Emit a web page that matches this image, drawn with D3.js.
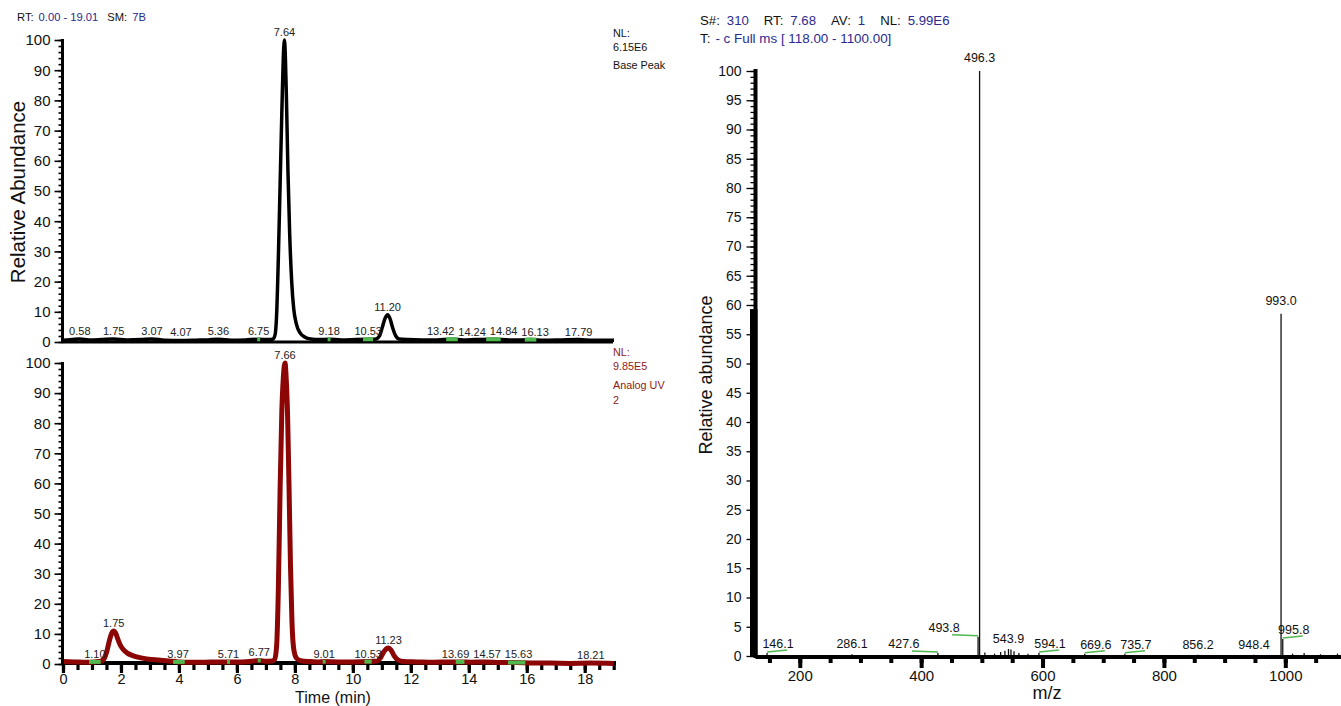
<!DOCTYPE html>
<html>
<head>
<meta charset="utf-8">
<script src="https://cdn.jsdelivr.net/npm/d3@7"></script>
<style>
  body { margin: 0; background: #fff; }
  svg { display: block; font-family: "Liberation Sans", Arial, Helvetica, sans-serif; }
</style>
</head>
<body>
<svg id="chart" width="1341" height="706"></svg>
<script>
// ---------- Chromatogram data (time in min, relative abundance %) ----------
const basePeakTrace = [
  [0.00,0.6],[0.30,0.8],[0.58,1.0],[0.90,0.7],[1.30,0.8],[1.75,1.0],[2.20,0.7],[2.70,0.8],
  [3.07,1.0],[3.50,0.6],[4.07,0.5],[4.60,0.6],[5.00,0.7],[5.36,0.9],[5.80,0.6],[6.30,0.7],
  [6.75,0.9],[7.10,0.8],[7.25,1.0],[7.32,2.5],[7.37,9],[7.43,28],[7.49,52],[7.55,76],
  [7.60,94],[7.64,100],[7.67,95],[7.71,80],[7.76,57],[7.82,36],[7.89,20],[7.96,11],
  [8.05,6],[8.18,3],[8.35,1.6],[8.55,1.0],[8.85,0.8],[9.18,0.9],[9.60,0.7],[10.10,0.8],
  [10.53,0.9],[10.80,1.0],[10.92,2.0],[11.02,5.0],[11.11,7.8],[11.20,9.0],[11.28,7.8],
  [11.37,4.8],[11.47,2.2],[11.60,1.0],[11.90,0.8],[12.40,0.7],[12.90,0.7],[13.42,0.9],
  [13.80,0.7],[14.24,0.8],[14.84,0.9],[15.40,0.7],[15.80,0.7],[16.13,0.8],[16.60,0.6],
  [17.20,0.7],[17.79,0.8],[18.30,0.6],[19.01,0.6]
];
const basePeakLabelRT = [0.58, 1.75, 3.07, 4.07, 5.36, 6.75, 7.64, 9.18, 10.53, 11.20, 13.42, 14.24, 14.84, 16.13, 17.79];
const basePeakMarks = [[6.70,6.80],[9.13,9.23],[10.35,10.70],[13.22,13.62],[14.60,15.10],[15.93,16.33]];

const uvTrace = [
  [0.00,0.8],[0.40,0.7],[0.80,0.6],[1.10,0.7],[1.30,0.9],[1.42,1.8],[1.52,4.5],[1.62,8.5],
  [1.70,10.6],[1.75,11.0],[1.81,10.4],[1.88,8.6],[1.97,6.4],[2.08,4.8],[2.22,3.6],[2.40,2.8],
  [2.65,2.1],[2.95,1.6],[3.30,1.3],[3.65,1.0],[3.97,0.7],[4.40,0.6],[4.90,0.6],[5.30,0.7],
  [5.71,0.7],[6.20,0.7],[6.50,0.9],[6.77,1.2],[7.00,0.9],[7.22,1.0],[7.30,1.5],[7.37,6],
  [7.43,25],[7.49,58],[7.55,84],[7.60,95],[7.66,100],[7.70,95],[7.75,82],[7.80,58],
  [7.85,32],[7.90,14],[7.96,5],[8.05,2],[8.20,1.1],[8.50,0.8],[8.80,0.7],[9.01,0.8],
  [9.50,0.7],[10.00,0.7],[10.53,0.8],[10.85,1.0],[10.95,2.0],[11.05,3.8],[11.15,5.0],
  [11.23,5.3],[11.32,4.6],[11.42,2.8],[11.55,1.4],[11.75,0.8],[12.20,0.7],[12.80,0.6],
  [13.30,0.7],[13.69,0.7],[14.10,0.6],[14.57,0.7],[15.10,0.5],[15.63,0.5],[16.20,0.3],
  [16.80,0.3],[17.50,0.2],[18.21,0.3],[19.01,0.2]
];
const uvLabelRT = [1.10, 1.75, 3.97, 5.71, 6.77, 7.66, 9.01, 10.53, 11.23, 13.69, 14.57, 15.63, 18.21];
const uvMarks = [[0.90,1.30],[3.80,4.20],[5.66,5.76],[6.72,6.82],[8.96,9.06],[10.40,10.65],[13.55,13.85],[15.35,15.95]];

const timeMajorTicks = [0, 2, 4, 6, 8, 10, 12, 14, 16, 18];
const abundanceMajorTicks = [0, 10, 20, 30, 40, 50, 60, 70, 80, 90, 100];

// ---------- Mass spectrum data (m/z, relative abundance %) ----------
const spectrumMz        = [146.1, 286.1, 427.6, 493.8, 496.3, 543.9, 594.1, 669.6, 735.7, 856.2, 948.4, 993.0, 995.8];
const spectrumIntensity = [0.5,   0.3,   0.5,   3.3,   100,   1.2,   0.5,   0.4,   0.4,   0.2,   0.2,   58.5,  2.9];
const noiseMz        = [505, 521, 531, 538, 548, 553, 561, 576, 1012, 1031, 1058, 1086];
const noiseIntensity = [0.6, 0.4, 0.7, 0.9, 1.1, 0.8, 0.5, 0.4, 0.4, 0.5, 0.3, 0.4];
const mzMajorTicks = [200, 400, 600, 800, 1000];
const spectrumAbundanceTicks = d3.range(0, 101, 5);

// ---------- Styling ----------
const BLUE = "#2a2a8e";
const NOTE_RED = "#8e1a1a";
const TRACE_RED = "#8c0606";
const GREEN = "#4fb84f";
const TICK_FONT = '"Liberation Sans", Arial, sans-serif';

const svg = d3.select("#chart");

// linear lookup of a trace value at time t
function valueAt(trace, t) {
  const i = d3.bisector(d => d[0]).left(trace, t);
  if (i <= 0) return trace[0][1];
  if (i >= trace.length) return trace[trace.length - 1][1];
  const a = trace[i - 1], b = trace[i];
  const f = (t - a[0]) / (b[0] - a[0]);
  return a[1] + f * (b[1] - a[1]);
}

// push apart neighbouring labels on the same row so they do not collide
function declutter(sel) {
  const nodes = sel.nodes().map(el => ({
    el, x: +el.getAttribute("x"), y: +el.getAttribute("y"), w: el.getComputedTextLength()
  })).sort((a, b) => a.x - b.x);
  for (let iter = 0; iter < 60; iter++) {
    let moved = false;
    for (let i = 0; i < nodes.length - 1; i++) {
      const a = nodes[i], b = nodes[i + 1];
      if (Math.abs(a.y - b.y) > 10) continue;
      const need = (a.w + b.w) / 2 + 4 - (b.x - a.x);
      if (need > 0.1) { a.x -= need / 2; b.x += need / 2; moved = true; }
    }
    if (!moved) break;
  }
  nodes.forEach(n => n.el.setAttribute("x", n.x));
}

// ---------- Chromatogram panels ----------
const x = d3.scaleLinear().domain([0, 19.01]).range([63, 614]);
const yTop = d3.scaleLinear().domain([0, 100]).range([342, 40]);
const yBot = d3.scaleLinear().domain([0, 100]).range([664, 363]);

function leftAxis(y) {
  svg.append("g").attr("transform", "translate(62.5,0)")
    .call(d3.axisLeft(y).tickValues(d3.range(0, 101, 2)).tickSize(4).tickSizeOuter(0).tickFormat(""))
    .call(s => s.selectAll(".tick line").attr("stroke-width", 1.6))
    .call(s => s.select(".domain").remove());
  svg.append("g").attr("transform", "translate(62.5,0)")
    .call(d3.axisLeft(y).tickValues(abundanceMajorTicks).tickSize(8).tickSizeOuter(0).tickPadding(4))
    .call(s => s.selectAll(".tick line").attr("stroke-width", 1.6))
    .call(s => s.selectAll(".tick text").attr("font-size", 15).attr("fill", "#111").attr("font-family", TICK_FONT))
    .call(s => s.select(".domain").remove());
  svg.append("line").attr("x1", 62.5).attr("x2", 62.5)
    .attr("y1", y(100) - 1).attr("y2", y(0) + 1)
    .attr("stroke", "#000").attr("stroke-width", 3);
}

function chromatogram(trace, y, color, width, labelRT, marks) {
  const line = d3.line().x(d => x(d[0])).y(d => y(d[1])).curve(d3.curveMonotoneX);
  svg.append("path").datum(trace).attr("d", line)
    .attr("fill", "none").attr("stroke", color).attr("stroke-width", width)
    .attr("stroke-linejoin", "round");
  svg.append("g").selectAll("line").data(marks).join("line")
    .attr("x1", d => x(d[0])).attr("x2", d => x(d[1]))
    .attr("y1", d => y(valueAt(trace, (d[0] + d[1]) / 2)))
    .attr("y2", d => y(valueAt(trace, (d[0] + d[1]) / 2)))
    .attr("stroke", GREEN).attr("stroke-width", 4);
  const labels = svg.append("g").selectAll("text").data(labelRT).join("text")
    .attr("x", d => x(d)).attr("y", d => y(valueAt(trace, d)) - 4)
    .attr("text-anchor", "middle").attr("font-size", 11).attr("fill", "#222")
    .text(d => d3.format(".2f")(d));
  declutter(labels);
}

// top panel: base peak
svg.append("line").attr("x1", 62).attr("x2", 613).attr("y1", yTop(0)).attr("y2", yTop(0))
  .attr("stroke", "#000").attr("stroke-width", 3);
chromatogram(basePeakTrace, yTop, "#000", 3.5, basePeakLabelRT, basePeakMarks);
leftAxis(yTop);

// bottom panel: analog UV, with the time axis
svg.append("g").attr("transform", `translate(0,${yBot(0) - 1})`)
  .call(d3.axisBottom(x).tickValues(d3.range(0, 19.01, 0.5)).tickSize(7).tickSizeOuter(0).tickFormat(""))
  .call(s => s.selectAll(".tick line").attr("stroke-width", 3.2))
  .call(s => s.select(".domain").remove());
svg.append("g").attr("transform", `translate(0,${yBot(0) - 1})`)
  .call(d3.axisBottom(x).tickValues(timeMajorTicks).tickSize(10).tickSizeOuter(0).tickPadding(1))
  .call(s => s.selectAll(".tick line").attr("stroke-width", 3.2))
  .call(s => s.selectAll(".tick text").attr("font-size", 14.5).attr("fill", "#111").attr("font-family", TICK_FONT))
  .call(s => s.select(".domain").remove());
svg.append("line").attr("x1", 62).attr("x2", 616).attr("y1", yBot(0) - 1).attr("y2", yBot(0) - 1)
  .attr("stroke", "#000").attr("stroke-width", 4);
chromatogram(uvTrace, yBot, TRACE_RED, 5, uvLabelRT, uvMarks);
leftAxis(yBot);

// chromatogram titles and notes
const hdr = svg.append("text").attr("x", 17).attr("y", 21).attr("font-size", 11.2);
hdr.append("tspan").attr("fill", "#111").text("RT:");
hdr.append("tspan").attr("dx", 5).attr("fill", BLUE).text("0.00 - 19.01");
hdr.append("tspan").attr("dx", 9).attr("fill", "#111").text("SM:");
hdr.append("tspan").attr("dx", 5).attr("fill", BLUE).text("7B");

[["NL:", 37], ["6.15E6", 51], ["Base Peak", 69]].forEach(([t, yy]) =>
  svg.append("text").attr("x", 613).attr("y", yy).attr("font-size", 10.8).attr("fill", "#111").text(t));
[["NL:", 356], ["9.85E5", 370], ["Analog UV", 389], ["2", 404]].forEach(([t, yy]) =>
  svg.append("text").attr("x", 613).attr("y", yy).attr("font-size", 10.8).attr("fill", NOTE_RED).text(t));

svg.append("text").attr("transform", "translate(25,192) rotate(-90)")
  .attr("text-anchor", "middle").attr("font-size", 20.5).attr("fill", "#111").text("Relative Abundance");
svg.append("text").attr("x", 333).attr("y", 702.5)
  .attr("text-anchor", "middle").attr("font-size", 16).attr("fill", "#111").text("Time (min)");

// ---------- Mass spectrum panel ----------
const mz = d3.scaleLinear().domain([118, 1100]).range([750, 1346]);
const ys = d3.scaleLinear().domain([0, 100]).range([656, 71]);
const AXX = 755.5;

// minor + major y ticks
svg.append("g").attr("transform", `translate(${AXX},0)`)
  .call(d3.axisLeft(ys).tickValues(d3.range(0, 101, 1)).tickSize(5).tickSizeOuter(0).tickFormat(""))
  .call(s => s.selectAll(".tick line").attr("stroke-width", 1.3))
  .call(s => s.select(".domain").remove());
svg.append("g").attr("transform", `translate(${AXX},0)`)
  .call(d3.axisLeft(ys).tickValues(spectrumAbundanceTicks).tickSize(9).tickSizeOuter(0).tickPadding(5))
  .call(s => s.selectAll(".tick line").attr("stroke-width", 1.3))
  .call(s => s.selectAll(".tick text").attr("font-size", 14).attr("fill", "#111").attr("font-family", TICK_FONT))
  .call(s => s.select(".domain").remove());
svg.append("line").attr("x1", AXX).attr("x2", AXX).attr("y1", ys(100) - 2).attr("y2", ys(0) + 2)
  .attr("stroke", "#000").attr("stroke-width", 4);
svg.append("rect").attr("x", 750).attr("width", 7.5)
  .attr("y", ys(59.3)).attr("height", ys(0) - ys(59.3)).attr("fill", "#000");

// x ticks
svg.append("g").attr("transform", `translate(0,${ys(0) + 1})`)
  .call(d3.axisBottom(mz).tickValues(d3.range(150, 1101, 50)).tickSize(6).tickSizeOuter(0).tickFormat(""))
  .call(s => s.selectAll(".tick line").attr("stroke-width", 4))
  .call(s => s.select(".domain").remove());
svg.append("g").attr("transform", `translate(0,${ys(0) + 1})`)
  .call(d3.axisBottom(mz).tickValues(mzMajorTicks).tickSize(11).tickSizeOuter(0).tickPadding(2)
          .tickFormat(d3.format("d")))
  .call(s => s.selectAll(".tick line").attr("stroke-width", 4))
  .call(s => s.selectAll(".tick text").attr("font-size", 15).attr("fill", "#111").attr("font-family", TICK_FONT))
  .call(s => s.select(".domain").remove());

// spectrum sticks
const sticks = d3.zip(spectrumMz, spectrumIntensity).concat(d3.zip(noiseMz, noiseIntensity));
svg.append("g").selectAll("line").data(sticks).join("line")
  .attr("x1", d => mz(d[0])).attr("x2", d => mz(d[0]))
  .attr("y1", ys(0)).attr("y2", d => ys(d[1]))
  .attr("stroke", "#111").attr("stroke-width", 1.3);

svg.append("line").attr("x1", AXX).attr("x2", 1341).attr("y1", ys(0) + 1).attr("y2", ys(0) + 1)
  .attr("stroke", "#000").attr("stroke-width", 4);

// peak labels; small peaks get a green leader with the label off to one side
const labelSide = { "146.1": 1, "427.6": -1, "493.8": -1, "594.1": 1, "669.6": 1, "735.7": 1, "995.8": 1 };
const lg = svg.append("g");
d3.zip(spectrumMz, spectrumIntensity).forEach(([m, v]) => {
  const t = d3.format(".1f")(m);
  const px = mz(m), py = ys(v);
  const side = labelSide[t] || 0;
  if (side === 0) {
    lg.append("text").attr("x", px).attr("y", py - (v > 10 ? 9 : 6))
      .attr("text-anchor", "middle").attr("font-size", 12.5).attr("fill", "#111").text(t);
  } else {
    const len = side > 0 ? 20 : 26;
    lg.append("line").attr("x1", px).attr("x2", px + side * len)
      .attr("y1", py - 1).attr("y2", py - 2 - (side < 0 ? 0 : 1))
      .attr("stroke", GREEN).attr("stroke-width", 1.5);
    lg.append("text").attr("x", px + (side > 0 ? 11 : -34)).attr("y", py - 5)
      .attr("text-anchor", "middle").attr("font-size", 12.5).attr("fill", "#111").text(t);
  }
});

// spectrum header
const h1 = svg.append("text").attr("x", 700).attr("y", 25).attr("font-size", 13.2);
[["S#:", "#111", 0], ["310", BLUE, 7], ["RT:", "#111", 15], ["7.68", BLUE, 7],
 ["AV:", "#111", 15], ["1", BLUE, 7], ["NL:", "#111", 15], ["5.99E6", BLUE, 7]]
  .forEach(([t, c, dx]) => h1.append("tspan").attr("dx", dx).attr("fill", c).text(t));
const h2 = svg.append("text").attr("x", 700).attr("y", 43).attr("font-size", 13.4);
h2.append("tspan").attr("fill", "#111").text("T:");
h2.append("tspan").attr("dx", 5).attr("fill", BLUE).text("- c Full ms [ 118.00 - 1100.00]");

svg.append("text").attr("transform", "translate(712,375) rotate(-90)")
  .attr("text-anchor", "middle").attr("font-size", 18).attr("fill", "#111").text("Relative abundance");
svg.append("text").attr("x", 1047).attr("y", 699)
  .attr("text-anchor", "middle").attr("font-size", 18).attr("fill", "#111").text("m/z");
</script>
</body>
</html>
